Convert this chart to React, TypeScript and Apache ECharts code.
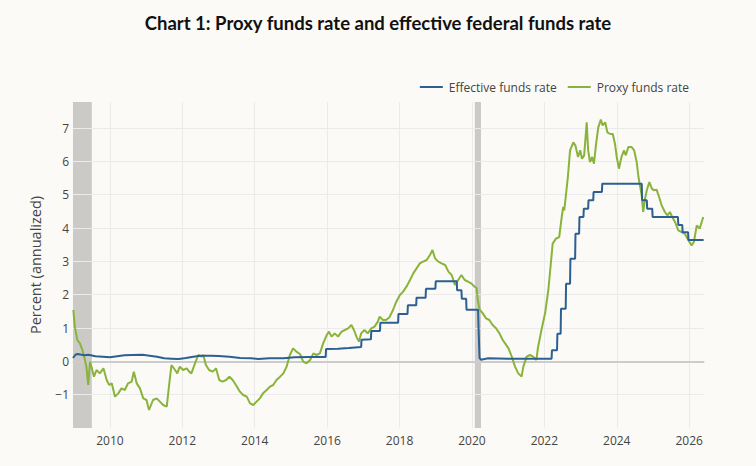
import React, { useEffect, useRef } from "react";
import * as echarts from "echarts";

const TITLE = "Chart 1: Proxy funds rate and effective federal funds rate";
const Y_AXIS_NAME = "Percent (annualized)";
const SERIES_NAMES = ["Effective funds rate", "Proxy funds rate"];
const X_TICKS = [2010, 2012, 2014, 2016, 2018, 2020, 2022, 2024, 2026];
const Y_TICKS = [-1, 0, 1, 2, 3, 4, 5, 6, 7];
const RECESSIONS = [
  [2008.98, 2009.5],
  [2020.08, 2020.25],
];

// Effective federal funds rate (decimal year, percent)
const effYears = [
  2008.98, 2009.05, 2009.1, 2009.3, 2009.4, 2009.6, 2009.8, 2010.0, 2010.2, 2010.4, 2010.6, 2010.9,
  2011.1, 2011.3, 2011.5, 2011.7, 2011.9, 2012.1, 2012.3, 2012.5, 2012.8, 2013.0, 2013.3, 2013.6,
  2013.9, 2014.1, 2014.4, 2014.8, 2015.1, 2015.5, 2015.96,
  2015.97, 2016.3, 2016.6, 2016.94,
  2016.95, 2017.21, 2017.22, 2017.46, 2017.47, 2017.96, 2017.97, 2018.22, 2018.23, 2018.46,
  2018.47, 2018.72, 2018.73, 2018.99, 2019.0, 2019.58, 2019.59, 2019.71, 2019.72, 2019.84,
  2019.85, 2020.17, 2020.18, 2020.21, 2020.25, 2020.45, 2021.0, 2021.5, 2022.2,
  2022.21, 2022.35, 2022.36, 2022.45, 2022.46, 2022.59, 2022.6, 2022.71, 2022.72, 2022.85,
  2022.86, 2022.96, 2022.97, 2023.08, 2023.09, 2023.21, 2023.22, 2023.35, 2023.36, 2023.59,
  2023.6, 2024.69, 2024.7, 2024.83, 2024.84, 2024.98, 2024.99, 2025.69, 2025.7, 2025.81,
  2025.82, 2025.97, 2025.98, 2026.4,
];
const effValues = [
  0.1, 0.2, 0.22, 0.18, 0.2, 0.15, 0.14, 0.12, 0.15, 0.18, 0.19, 0.2,
  0.17, 0.14, 0.09, 0.08, 0.07, 0.1, 0.14, 0.17, 0.17, 0.16, 0.14, 0.1,
  0.09, 0.07, 0.09, 0.09, 0.12, 0.13, 0.13,
  0.37, 0.38, 0.4, 0.43,
  0.65, 0.66, 0.91, 0.91, 1.16, 1.16, 1.42, 1.42, 1.68, 1.68,
  1.91, 1.91, 2.18, 2.18, 2.4, 2.4, 2.13, 2.13, 1.88, 1.88,
  1.55, 1.55, 1.1, 0.1, 0.05, 0.09, 0.08, 0.08, 0.08,
  0.33, 0.33, 0.83, 0.83, 1.58, 1.58, 2.33, 2.33, 3.08, 3.08,
  3.83, 3.83, 4.33, 4.33, 4.58, 4.58, 4.83, 4.83, 5.08, 5.08,
  5.33, 5.33, 4.83, 4.83, 4.58, 4.58, 4.33, 4.33, 4.09, 4.09,
  3.87, 3.87, 3.64, 3.64,
];

// Proxy funds rate (decimal year, percent)
const proxyYears = [
  2008.99, 2009.03, 2009.1, 2009.17, 2009.24, 2009.31, 2009.35, 2009.4, 2009.45, 2009.49,
  2009.56, 2009.63, 2009.72, 2009.82, 2009.91, 2009.98, 2010.05, 2010.14, 2010.23, 2010.32,
  2010.41, 2010.5, 2010.6, 2010.66, 2010.74, 2010.83, 2010.92, 2011.01, 2011.08, 2011.19,
  2011.29, 2011.38, 2011.47, 2011.57, 2011.64, 2011.7, 2011.8, 2011.86, 2011.93, 2012.02,
  2012.12, 2012.19, 2012.25, 2012.35, 2012.44, 2012.53, 2012.58, 2012.65, 2012.74, 2012.84,
  2012.93, 2013.02, 2013.11, 2013.21, 2013.3, 2013.39, 2013.48, 2013.59, 2013.68, 2013.78,
  2013.87, 2013.96, 2014.05, 2014.14, 2014.23, 2014.33, 2014.42, 2014.51, 2014.6, 2014.7,
  2014.79, 2014.88, 2014.97, 2015.06, 2015.15, 2015.25, 2015.34, 2015.43, 2015.53, 2015.62,
  2015.71, 2015.8, 2015.89, 2015.99, 2016.05, 2016.12, 2016.21, 2016.3, 2016.4, 2016.49,
  2016.58, 2016.67, 2016.74, 2016.81, 2016.88, 2016.94, 2017.03, 2017.12, 2017.22, 2017.31,
  2017.4, 2017.45, 2017.54, 2017.63, 2017.72, 2017.82, 2017.91, 2018.01, 2018.1, 2018.19,
  2018.29, 2018.38, 2018.47, 2018.56, 2018.65, 2018.75, 2018.84, 2018.91, 2018.98, 2019.07,
  2019.16, 2019.26, 2019.35, 2019.44, 2019.53, 2019.62, 2019.71, 2019.8, 2019.89, 2019.98,
  2020.07, 2020.13, 2020.16, 2020.21, 2020.3, 2020.39, 2020.48, 2020.57, 2020.66, 2020.76,
  2020.85, 2020.94, 2021.01, 2021.1, 2021.19, 2021.28, 2021.37, 2021.42, 2021.51, 2021.6,
  2021.69, 2021.78, 2021.82, 2021.92, 2022.02, 2022.11, 2022.17, 2022.23, 2022.32, 2022.41,
  2022.48, 2022.52, 2022.55, 2022.59, 2022.65, 2022.71, 2022.8, 2022.86, 2022.93, 2022.99,
  2023.04, 2023.1, 2023.17, 2023.21, 2023.26, 2023.32, 2023.37, 2023.43, 2023.49, 2023.56,
  2023.61, 2023.68, 2023.74, 2023.82, 2023.89, 2023.95, 2024.0, 2024.06, 2024.13, 2024.2,
  2024.25, 2024.32, 2024.41, 2024.48, 2024.55, 2024.6, 2024.64, 2024.69, 2024.73, 2024.78,
  2024.83, 2024.9, 2024.97, 2025.03, 2025.1, 2025.17, 2025.24, 2025.33, 2025.4, 2025.47,
  2025.53, 2025.61, 2025.7, 2025.79, 2025.88, 2025.98, 2026.07, 2026.13, 2026.21, 2026.29,
  2026.39,
];
const proxyValues = [
  1.54, 1.04, 0.64, 0.54, 0.34, 0.04, -0.16, -0.71, -0.01, -0.16,
  -0.46, -0.26, -0.36, -0.21, -0.56, -0.71, -0.66, -1.06, -0.96, -0.81,
  -0.86, -0.66, -0.61, -0.31, -0.66, -0.81, -1.11, -1.16, -1.46, -1.16,
  -1.11, -1.21, -1.31, -1.36, -0.66, -0.11, -0.26, -0.36, -0.16, -0.26,
  -0.21, -0.31, -0.36, -0.06, 0.19, 0.14, 0.19, -0.11, -0.26, -0.31,
  -0.21, -0.56, -0.61, -0.56, -0.46, -0.56, -0.71, -0.91, -1.01, -1.06,
  -1.26, -1.31, -1.21, -1.11, -0.96, -0.86, -0.76, -0.71, -0.56, -0.46,
  -0.36, -0.16, 0.19, 0.39, 0.29, 0.22, -0.01, -0.06, 0.04, 0.24,
  0.19, 0.24, 0.54, 0.79, 0.89, 0.74, 0.84, 0.74, 0.89, 0.94,
  0.99, 1.09, 0.94, 0.74, 0.59, 0.84, 0.94, 0.84, 0.99, 1.04,
  1.19, 1.34, 1.24, 1.24, 1.32, 1.54, 1.79, 1.99, 2.09, 2.24,
  2.44, 2.64, 2.79, 2.94, 2.99, 3.04, 3.19, 3.34, 3.09, 2.99,
  2.94, 2.89, 2.69, 2.59, 2.29, 2.44, 2.59, 2.44, 2.39, 2.34,
  2.24, 2.2, 1.84, 1.56, 1.44, 1.29, 1.24, 1.09, 1.0, 0.84,
  0.64, 0.5, 0.39, 0.14, -0.16, -0.36, -0.46, -0.16, 0.14, 0.19,
  0.14, 0.04, 0.39, 0.94, 1.44, 2.14, 2.83, 3.53, 3.68, 3.73,
  4.33, 4.63, 4.53, 4.93, 5.53, 6.33, 6.57, 6.47, 6.13, 6.33,
  6.08, 6.18, 7.17, 6.33, 5.98, 6.13, 5.93, 6.53, 7.02, 7.25,
  7.08, 7.17, 6.87, 6.82, 6.82, 6.53, 6.13, 5.78, 6.13, 6.33,
  6.18, 6.43, 6.43, 6.33, 5.98, 5.53, 5.28, 4.98, 4.48, 4.88,
  5.13, 5.38, 5.18, 5.13, 5.15, 4.93, 4.68, 4.48, 4.38, 4.48,
  4.33, 4.18, 3.93, 3.88, 3.83, 3.63, 3.48, 3.58, 4.08, 3.98,
  4.33,
];

const BLUE = "#2c5f92";
const GREEN = "#8ab33b";
const BG = "#fbfaf6";
const FONT = "'Open Sans', 'Noto Sans', sans-serif";

export default function App() {
  const ref = useRef<HTMLDivElement>(null);
  useEffect(() => {
    if (!ref.current) return;
    const chart = echarts.init(ref.current, undefined, { renderer: "svg" });
    const effData = effYears.map((x, i) => [x, effValues[i]]);
    const proxyData = proxyYears.map((x, i) => [x, proxyValues[i]]);
    chart.setOption({
      animation: false,
      backgroundColor: BG,
      textStyle: { fontFamily: FONT },
      title: {
        text: TITLE,
        left: "center",
        top: 8,
        textStyle: { fontFamily: "Lato, sans-serif", fontWeight: "bold", fontSize: 18.5, color: "#111" },
      },
      legend: {
        data: SERIES_NAMES,
        right: 62,
        top: 76,
        icon: "rect",
        itemWidth: 23,
        itemHeight: 2,
        itemGap: 11,
        textStyle: { fontFamily: FONT, fontSize: 12, color: "#444", padding: [0, 0, 0, 1] },
      },
      grid: { left: 73, right: 52, top: 102, bottom: 38, containLabel: false },
      xAxis: {
        type: "value",
        min: 2008.98,
        max: 2026.41,
        axisLine: { show: true, lineStyle: { color: "#d9d9d9", width: 1.5 } },
        axisTick: { show: false, customValues: X_TICKS },
        axisLabel: {
          customValues: X_TICKS,
          color: "#444",
          fontSize: 12,
          fontFamily: FONT,
          margin: 6,
          formatter: (v: number) => String(Math.round(v)),
        },
        splitLine: { show: true, lineStyle: { color: "#ebebeb", width: 1 } },
      },
      yAxis: {
        type: "value",
        min: -2,
        max: 7.78,
        name: Y_AXIS_NAME,
        nameLocation: "middle",
        nameGap: 30,
        nameTextStyle: { fontFamily: FONT, fontSize: 14.5, color: "#444" },
        axisLine: { show: false },
        axisTick: { show: false, customValues: Y_TICKS },
        axisLabel: {
          customValues: Y_TICKS,
          color: "#444",
          fontSize: 12,
          fontFamily: FONT,
          margin: 4,
          formatter: (v: number) => (v < 0 ? "\u2212" + Math.abs(v) : String(v)),
        },
        splitLine: { show: true, lineStyle: { color: "#ebebeb", width: 1 } },
      },
      series: [
        {
          name: SERIES_NAMES[0],
          type: "line",
          data: effData,
          showSymbol: false,
          symbol: "none",
          lineStyle: { color: BLUE, width: 2 },
          itemStyle: { color: BLUE },
          z: 3,
          markArea: {
            silent: true,
            z: -1,
            itemStyle: { color: "#cbcac6" },
            data: RECESSIONS.map(([a, b]) => [{ xAxis: a }, { xAxis: b }]),
          },
          markLine: {
            silent: true,
            z: 1,
            symbol: "none",
            label: { show: false },
            lineStyle: { color: "#cccccc", width: 2, type: "solid" },
            data: [{ yAxis: 0 }],
          },
        },
        {
          name: SERIES_NAMES[1],
          type: "line",
          data: proxyData,
          showSymbol: false,
          symbol: "none",
          lineStyle: { color: GREEN, width: 2 },
          itemStyle: { color: GREEN },
          z: 2,
        },
      ],
    });
    return () => chart.dispose();
  }, []);
  return <div ref={ref} style={{ width: 756, height: 466, position: "absolute", left: 0, top: 0 }} />;
}
